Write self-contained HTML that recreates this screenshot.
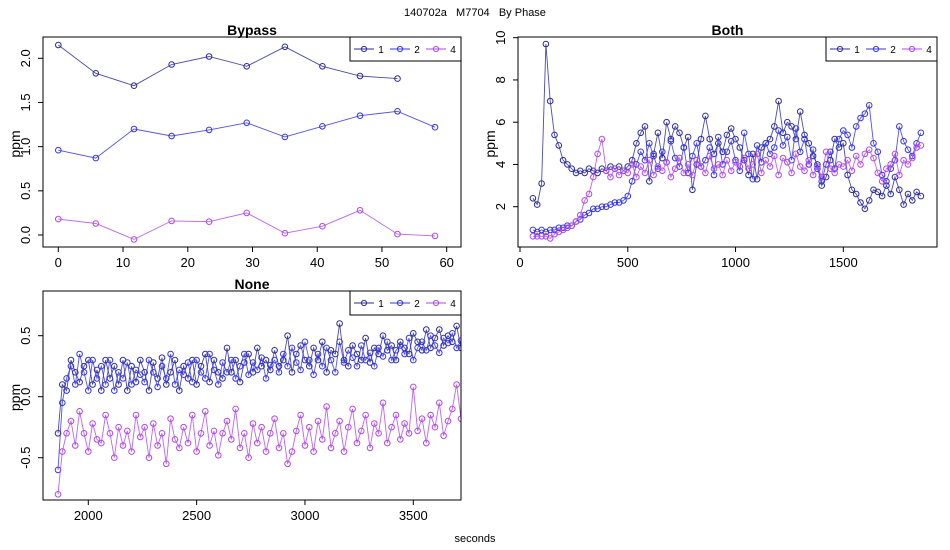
<!DOCTYPE html>
<html><head><meta charset="utf-8"><style>
body{margin:0;background:#fff;}
svg{display:block;font-family:"Liberation Sans",sans-serif;}
</style></head><body>
<svg id="c" width="950" height="550">
<text x="475" y="16" font-size="11" text-anchor="middle" style="white-space:pre">140702a   M7704   By Phase</text>
<text x="475" y="542" font-size="11" text-anchor="middle">seconds</text>
</svg>
<script>
// Bypass data
const bypX = [0,5.8,11.7,17.5,23.3,29.1,35,40.8,46.6,52.4,58.2];
const byp1 = [2.15,1.83,1.69,1.93,2.02,1.91,2.13,1.91,1.80,1.77];
const byp2 = [0.96,0.87,1.20,1.12,1.19,1.27,1.11,1.23,1.35,1.40,1.22];
const byp4 = [0.18,0.13,-0.05,0.16,0.15,0.25,0.02,0.10,0.28,0.01,-0.01];
const bypXTicks = [0,10,20,30,40,50,60];
const bypYTicks = [0,0.5,1,1.5,2];
const bypYLabels = ["0.0","0.5","1.0","1.5","2.0"];
// Both data (sampled every 20 s from 60 s)
const bothStart = 60, bothStep = 20;
const both1 = [2.4,2.1,3.1,9.7,7.0,5.4,4.9,4.2,4.0,3.8,3.6,3.7,3.6,3.8,3.7,3.6,3.8,3.7,3.9,3.8,3.9,3.7,3.9,4.2,5.0,5.5,5.8,3.2,4.5,5.5,4.3,6.0,5.2,5.8,5.5,4.8,5.3,2.8,4.0,5.2,6.3,5.2,4.5,5.0,4.6,5.4,5.7,5.2,4.8,4.2,3.5,4.5,3.3,4.8,5.0,5.2,5.8,7.0,5.5,6.0,5.8,5.2,6.5,5.4,5.0,4.4,4.0,3.0,3.4,4.2,5.2,4.8,5.0,3.5,2.8,2.6,2.2,1.9,2.3,2.8,2.7,2.5,3.0,2.6,3.4,2.8,2.1,2.6,2.3,2.7,2.5];
const both2 = [0.9,0.8,0.9,0.8,0.9,0.9,1.0,1.0,1.1,1.1,1.3,1.4,1.6,1.7,1.9,1.9,2.0,2.0,2.1,2.2,2.2,2.3,2.5,3.2,4.0,4.6,4.2,5.0,4.4,3.8,4.6,4.1,5.1,4.3,3.9,4.8,3.6,4.4,5.0,3.9,4.2,4.8,3.5,5.3,4.0,4.6,5.1,4.2,3.7,5.5,4.5,3.3,4.9,4.1,5.0,4.5,4.8,5.6,4.9,5.3,4.2,5.7,4.6,5.2,4.0,4.7,3.8,3.2,4.0,4.6,3.8,5.2,5.6,5.4,4.8,5.8,6.2,6.4,6.8,5.0,4.6,3.5,3.2,3.8,4.2,5.8,5.1,4.7,4.4,5.0,5.5];
const both4 = [0.6,0.6,0.6,0.6,0.5,0.7,0.8,0.9,1.0,1.1,1.3,1.6,2.3,2.6,3.4,4.5,5.2,3.7,3.4,3.8,3.5,3.7,3.6,4.0,3.4,3.9,3.6,4.2,3.5,3.9,3.7,4.1,3.4,3.8,4.3,3.6,4.0,3.5,4.2,3.9,3.6,4.4,3.8,4.0,3.5,4.2,3.7,4.1,3.9,4.3,3.8,4.0,4.5,3.6,4.2,3.9,4.4,3.5,4.3,4.1,3.6,4.5,3.9,3.7,4.2,3.5,3.9,3.4,4.6,3.8,3.6,4.0,3.9,4.2,3.7,4.4,4.0,4.5,4.7,4.3,3.6,3.2,3.8,4.0,4.5,3.5,4.2,4.0,4.3,4.8,4.9];
const bothXTicks = [0,500,1000,1500];
const bothYTicks = [2,4,6,8,10];
// None data (sampled every 20 s from 1860 s)
const noneStart = 1860, noneStep = 20;
const none1 = [-0.3,0.1,0.05,0.3,0.2,0.12,0.25,0.3,0.1,0.22,0.05,0.3,0.15,0.25,0.1,0.3,0.05,0.25,0.12,0.3,0.2,0.05,0.28,0.15,0.32,0.1,0.2,0.3,0.05,0.25,0.15,0.3,0.1,0.25,0.35,0.12,0.3,0.2,0.15,0.4,0.2,0.3,0.12,0.28,0.35,0.2,0.4,0.25,0.3,0.22,0.38,0.25,0.3,0.5,0.2,0.35,0.42,0.3,0.25,0.4,0.3,0.45,0.2,0.38,0.35,0.6,0.3,0.25,0.42,0.35,0.3,0.48,0.28,0.4,0.35,0.5,0.38,0.42,0.3,0.45,0.4,0.35,0.52,0.45,0.38,0.55,0.4,0.48,0.55,0.42,0.5,0.45,0.58,0.4,0.52];
const none2 = [-0.6,-0.05,0.15,0.25,0.1,0.35,0.2,0.05,0.3,0.15,0.25,0.1,0.3,0.05,0.2,0.15,0.28,0.1,0.22,0.18,0.12,0.3,0.2,0.08,0.25,0.15,0.35,0.1,0.22,0.18,0.28,0.12,0.3,0.2,0.15,0.35,0.22,0.1,0.28,0.2,0.3,0.15,0.25,0.35,0.18,0.28,0.22,0.32,0.15,0.26,0.3,0.2,0.35,0.25,0.4,0.28,0.22,0.45,0.3,0.18,0.35,0.25,0.4,0.3,0.2,0.45,0.28,0.38,0.32,0.25,0.42,0.3,0.36,0.25,0.4,0.33,0.45,0.3,0.38,0.42,0.35,0.48,0.3,0.4,0.45,0.38,0.5,0.42,0.36,0.48,0.44,0.52,0.4,0.46,0.5];
const none4 = [-0.8,-0.45,-0.3,-0.2,-0.4,-0.12,-0.3,-0.45,-0.22,-0.35,-0.38,-0.15,-0.3,-0.5,-0.25,-0.4,-0.28,-0.45,-0.15,-0.33,-0.25,-0.5,-0.22,-0.4,-0.3,-0.55,-0.18,-0.35,-0.42,-0.25,-0.38,-0.15,-0.45,-0.3,-0.12,-0.4,-0.28,-0.48,-0.3,-0.2,-0.35,-0.1,-0.42,-0.3,-0.5,-0.22,-0.38,-0.25,-0.45,-0.3,-0.18,-0.42,-0.3,-0.55,-0.45,-0.28,-0.15,-0.4,-0.25,-0.45,-0.2,-0.35,-0.08,-0.42,-0.3,-0.2,-0.45,-0.25,-0.1,-0.38,-0.28,-0.15,-0.42,-0.22,-0.3,-0.05,-0.38,-0.25,-0.15,-0.35,-0.22,-0.3,0.08,-0.28,-0.18,-0.38,-0.15,-0.25,-0.05,-0.32,-0.2,-0.1,0.1,-0.18,-0.25];
const noneXTicks = [2000,2500,3000,3500];
const noneYTicks = [-0.5,0,0.5];
const noneYLabels = ["-0.5","0.0","0.5"];
const seriesNames = ["1","2","4"];
const colors = ["#2c2c9c","#3434e8","#b048ec"];

const NS="http://www.w3.org/2000/svg";
const svg=document.getElementById('c');
function mk(tag,attrs,parent){const e=document.createElementNS(NS,tag);for(const k in attrs)e.setAttribute(k,attrs[k]);(parent||svg).appendChild(e);return e;}

function panel(o){
  const g=mk('g',{});
  
  
  const sx=v=>o.x0px+(v-o.x0)*(o.x1px-o.x0px)/(o.x1-o.x0);
  const sy=v=>o.y0px+(v-o.y0)*(o.y1px-o.y0px)/(o.y1-o.y0);
  const cid='clip-'+o.name;
  const cp=mk('clipPath',{id:cid},g);
  mk('rect',{x:o.L,y:o.T,width:o.R-o.L,height:o.B-o.T},cp);
  const data=mk('g',{'clip-path':'url(#'+cid+')'},g);
  o.series.forEach((s,si)=>{
    const xs=s.xs, ys=s.ys;
    let d='';
    ys.forEach((v,i)=>{d+=(i?'L':'M')+sx(xs(i)).toFixed(1)+','+sy(v).toFixed(1);});
    const ln=mk('path',{d:d,fill:'none',stroke:colors[si],'stroke-width':0.9,'stroke-opacity':0.85},data);
    
    
    ys.forEach((v,i)=>{
      const c=mk('circle',{cx:sx(xs(i)).toFixed(1),cy:sy(v).toFixed(1),r:2.8,fill:'none',stroke:colors[si],'stroke-width':1},data);
      
      
    });
  });
  const box=mk('rect',{x:o.L,y:o.T,width:o.R-o.L,height:o.B-o.T,fill:'none',stroke:'#000','stroke-width':1},g);
  
  
  const xa=mk('g',{},g);
  
  
  const xt=o.xTicks;
  mk('line',{x1:sx(xt[0]),x2:sx(xt[xt.length-1]),y1:o.B,y2:o.B,stroke:'#000'},xa);
  xt.forEach(t=>{mk('line',{x1:sx(t),x2:sx(t),y1:o.B,y2:o.B+5,stroke:'#000'},xa);
    const tx=mk('text',{x:sx(t),y:o.B+20,'font-size':13,'text-anchor':'middle'},xa);tx.textContent=t;});
  const ya=mk('g',{},g);
  
  
  const yt=o.yTicks;
  mk('line',{x1:o.L,x2:o.L,y1:sy(yt[0]),y2:sy(yt[yt.length-1]),stroke:'#000'},ya);
  yt.forEach((t,i)=>{mk('line',{x1:o.L,x2:o.L-5,y1:sy(t),y2:sy(t),stroke:'#000'},ya);
    const tx=mk('text',{x:0,y:0,'font-size':13,'text-anchor':'middle',transform:`translate(${o.L-13},${sy(t)}) rotate(-90)`},ya);
    tx.textContent=o.yLabels?o.yLabels[i]:t;});
  const yl=mk('text',{x:0,y:0,'font-size':14,'text-anchor':'middle',transform:`translate(${o.L-23},${(o.T+o.B)/2+2}) rotate(-90)`},g);
  yl.textContent='ppm';
  
  
  const tt=mk('text',{x:(o.L+o.R)/2,y:o.T-2,'font-size':14,'font-weight':'bold','text-anchor':'middle'},g);
  tt.textContent=o.title;
  
  
  const lg=mk('g',{},g);
  
  
  const lx=o.R-111, ly=o.T;
  mk('rect',{x:lx,y:ly,width:111,height:24,fill:'#fff',stroke:'#000'},lg);
  seriesNames.forEach((n,i)=>{
    const e=mk('g',{},lg);
    
    
    const bx=lx+4+i*36;
    mk('line',{x1:bx,x2:bx+20,y1:ly+12,y2:ly+12,stroke:colors[i]},e);
    mk('circle',{cx:bx+10,cy:ly+12,r:2.6,fill:'none',stroke:colors[i]},e);
    const t=mk('text',{x:bx+27,y:ly+16,'font-size':10,'text-anchor':'middle'},e);t.textContent=n;
  });
}

panel({name:'bypass',title:'Bypass',L:43,R:461,T:37,B:247,x0:0,x1:60,x0px:58.3,x1px:446.7,y0:0,y1:2,y0px:235,y1px:58.3,
  xTicks:bypXTicks,yTicks:bypYTicks,yLabels:bypYLabels,
  series:[{ys:byp1,xs:i=>bypX[i]},{ys:byp2,xs:i=>bypX[i]},{ys:byp4,xs:i=>bypX[i]}]});
panel({name:'both',title:'Both',L:518,R:937,T:37,B:247,x0:0,x1:1500,x0px:520,x1px:843.3,y0:2,y1:10,y0px:206.7,y1px:37.7,
  xTicks:bothXTicks,yTicks:bothYTicks,
  series:[both1,both2,both4].map(a=>({ys:a,xs:i=>bothStart+i*bothStep}))});
panel({name:'none',title:'None',L:43,R:461,T:291,B:500,x0:2000,x1:3500,x0px:88.3,x1px:413.3,y0:0,y1:0.5,y0px:396.7,y1px:335.7,
  xTicks:noneXTicks,yTicks:noneYTicks,yLabels:noneYLabels,
  series:[none1,none2,none4].map(a=>({ys:a,xs:i=>noneStart+i*noneStep}))});
</script>
</body></html>
